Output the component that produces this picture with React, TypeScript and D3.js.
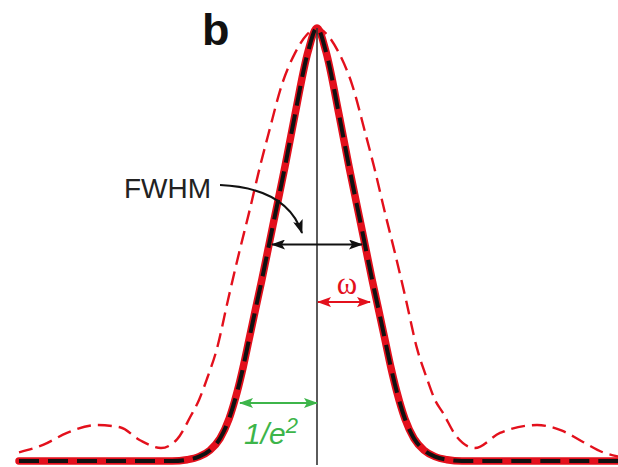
import React from 'react';
import * as d3 from 'd3';

// beam profiles, offset from centre (px-like units) vs normalised intensity
const gaussOffsets = [-298, -145, -130, -118, -107, -97, -88, -80, -74, -68, -62, -55, -44, -32, -22, -9, 0, 9, 22, 32, 44, 55, 62, 68, 74, 80, 88, 97, 107, 118, 130, 145, 302];
const gaussValues = [0, 0, 0.003, 0.01, 0.025, 0.052, 0.097, 0.158, 0.215, 0.28, 0.345, 0.42, 0.545, 0.68, 0.8, 0.945, 1, 0.945, 0.8, 0.68, 0.545, 0.42, 0.345, 0.28, 0.215, 0.158, 0.097, 0.052, 0.025, 0.01, 0.003, 0, 0];

const airyOffsets = [-298, -274, -250, -220, -197, -177, -156, -140, -126, -118, -110, -100, -89, -78, -68, -57, -48, -35, -22, -10, 0, 10, 22, 35, 48, 57, 68, 78, 89, 100, 110, 118, 126, 140, 158, 183, 220, 245, 266, 286, 302];
const airyValues = [0.02, 0.037, 0.065, 0.083, 0.078, 0.048, 0.03, 0.05, 0.105, 0.141, 0.19, 0.26, 0.372, 0.48, 0.573, 0.68, 0.76, 0.87, 0.942, 0.985, 1, 0.985, 0.942, 0.87, 0.76, 0.68, 0.573, 0.48, 0.372, 0.26, 0.19, 0.141, 0.111, 0.055, 0.03, 0.065, 0.083, 0.07, 0.044, 0.02, 0.01];

// annotation widths: [left offset, right offset, level]
const fwhmSpan = [-45, 45, 0.5];
const omegaSpan = [1, 53, 0.367];
const e2Span = [-77, 0, 0.134];

const RED = '#e3101c';
const GREEN = '#3db54a';

export default function App() {
  const W = 618, H = 467;
  const x = d3.scaleLinear().domain([-300, 300]).range([17, 617]);
  const y = d3.scaleLinear().domain([0, 1]).range([461, 28]);

  const line = d3.line<[number, number]>()
    .x(d => x(d[0]))
    .y(d => y(d[1]))
    .curve(d3.curveMonotoneX);

  const gauss = line(gaussOffsets.map((o, i) => [o, gaussValues[i]]) as [number, number][]) || '';
  const airy = line(airyOffsets.map((o, i) => [o, airyValues[i]]) as [number, number][]) || '';

  const arrow = (span: number[], color: string, id: string) => (
    <line x1={x(span[0])} x2={x(span[1])} y1={y(span[2])} y2={y(span[2])}
      stroke={color} strokeWidth={2}
      markerStart={`url(#${id})`} markerEnd={`url(#${id})`} />
  );

  const marker = (id: string, color: string) => (
    <marker id={id} viewBox="0 0 14 10" refX={13} refY={5} markerWidth={14} markerHeight={10}
      markerUnits="userSpaceOnUse" orient="auto-start-reverse">
      <path d="M0,0 L14,5 L0,10 L3,5 Z" fill={color} />
    </marker>
  );

  return (
    <svg width={W} height={H} style={{ position: 'absolute', left: 0, top: 0, background: '#fff' }}
      fontFamily="Liberation Sans, Arial, sans-serif">
      <defs>
        {marker('ah-black', '#111')}
        {marker('ah-red', RED)}
        {marker('ah-green', GREEN)}
      </defs>

      {/* wide dashed profile */}
      <path d={airy} fill="none" stroke={RED} strokeWidth={2.4} strokeDasharray="14 7" />

      {/* gaussian: thick red with black dashed overlay */}
      <path d={gauss} fill="none" stroke={RED} strokeWidth={7.5} strokeLinecap="round" strokeLinejoin="round" />
      <path d={gauss} fill="none" stroke="#111" strokeWidth={4} strokeDasharray="20 9" />

      {/* axis of symmetry */}
      <line x1={x(0)} x2={x(0)} y1={y(1)} y2={465} stroke="#333" strokeWidth={1.6} />

      <text x={202} y={45} fontSize={45} fontWeight="bold" fill="#111">b</text>

      {/* FWHM */}
      <text x={124} y={198} fontSize={28} fill="#222">FWHM</text>
      <path d="M220,185 Q287,188 302,233" fill="none" stroke="#111" strokeWidth={2} markerEnd="url(#ah-black)" />
      {arrow(fwhmSpan, '#111', 'ah-black')}

      {/* omega */}
      <text x={347} y={294} fontSize={31} fill={RED} textAnchor="middle" fontFamily="Liberation Serif, Times New Roman, serif">ω</text>
      {arrow(omegaSpan, RED, 'ah-red')}

      {/* 1/e^2 */}
      {arrow(e2Span, GREEN, 'ah-green')}
      <text x={244} y={444} fontSize={30} fontStyle="italic" fill={GREEN}>
        1/e<tspan dy={-11} fontSize={22}>2</tspan>
      </text>
    </svg>
  );
}
